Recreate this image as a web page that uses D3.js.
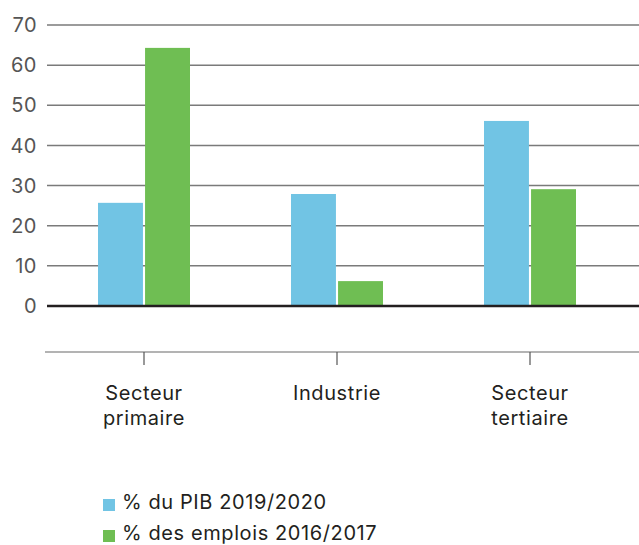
<!DOCTYPE html>
<html><head><meta charset="utf-8">
<script src="https://cdn.jsdelivr.net/npm/d3@7/dist/d3.min.js"></script>
<style>body{margin:0;background:#fff;}svg{display:block;}</style>
</head><body>
<svg id="c" width="639" height="545"></svg>
<script>
const categories = [["Secteur","primaire"],["Industrie"],["Secteur","tertiaire"]];
const seriesNames = ["% du PIB 2019/2020","% des emplois 2016/2017"];
const pib = [25.7, 27.9, 46.1];
const emplois = [64.3, 6.2, 29.1];
const yTicks = [0,10,20,30,40,50,60,70];
const colors = ["#71c4e4","#6fbe53"];

const svg = d3.select("#c");
const font = "Inter, 'Noto Sans', sans-serif";
const y = d3.scaleLinear().domain([0,70]).range([306,25]);
const x = d3.scaleBand().domain(d3.range(categories.length)).range([47.5,626.5]);
const xs = d3.scaleBand().domain([0,1]).range([0,92]).paddingInner(0.045);

// gridlines
svg.append("g").selectAll("line").data(yTicks.filter(d=>d>0)).join("line")
  .attr("x1",47).attr("x2",639).attr("y1",d=>y(d)).attr("y2",d=>y(d))
  .attr("stroke","#7a7a7a").attr("stroke-width",1.5);

// y labels
svg.append("g").selectAll("text").data(yTicks).join("text")
  .attr("x",37).attr("y",d=>y(d)).attr("dy","0.36em").attr("text-anchor","end")
  .attr("font-family",font).attr("font-size",20).attr("fill","#555")
  .attr("letter-spacing",0.5)
  .text(d=>d);

// bars
const series = [pib, emplois];
series.forEach((vals,si)=>{
  svg.append("g").selectAll("rect").data(vals).join("rect")
    .attr("x",(d,i)=>x(i)+x.bandwidth()/2-46+xs(si))
    .attr("width",xs.bandwidth())
    .attr("y",d=>y(d)).attr("height",d=>y(0)-y(d))
    .attr("fill",colors[si]);
});

// zero line
svg.append("line").attr("x1",47).attr("x2",639).attr("y1",y(0)).attr("y2",y(0))
  .attr("stroke","#231f20").attr("stroke-width",2.5);

// category axis
svg.append("line").attr("x1",45).attr("x2",639).attr("y1",352).attr("y2",352)
  .attr("stroke","#9a9a9a").attr("stroke-width",1.5);
const cg = svg.append("g").selectAll("g").data(categories).join("g")
  .attr("transform",(d,i)=>`translate(${x(i)+x.bandwidth()/2},0)`);
cg.append("line").attr("y1",352).attr("y2",365).attr("stroke","#555").attr("stroke-width",1.2);
cg.append("text").attr("text-anchor","middle").attr("font-family",font).attr("font-size",20)
  .attr("letter-spacing",0.6).attr("fill","#231f20")
  .selectAll("tspan").data(d=>d).join("tspan").attr("x",0).attr("y",(d,i)=>400+i*25).text(d=>d);

// legend
const lg = svg.append("g").selectAll("g").data(seriesNames).join("g")
  .attr("transform",(d,i)=>`translate(103,${499+i*31})`);
lg.append("rect").attr("width",12).attr("height",12).attr("fill",(d,i)=>colors[i]);
lg.append("text").attr("x",19).attr("y",10).attr("font-family",font)
  .attr("font-size",20).attr("letter-spacing",0.6).attr("fill","#231f20").text(d=>d);
</script>
</body></html>
